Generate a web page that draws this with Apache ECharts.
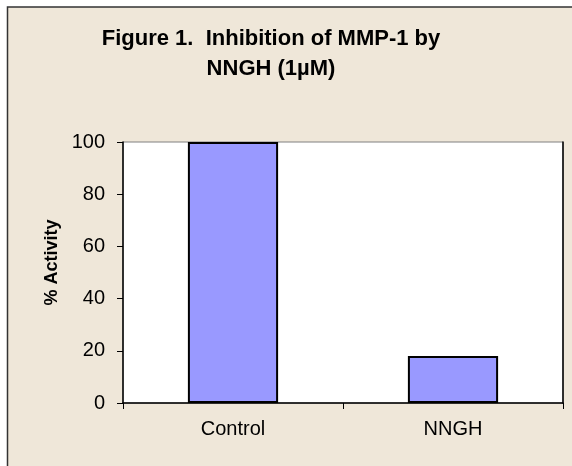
<!DOCTYPE html>
<html>
<head>
<meta charset="utf-8">
<script src="https://cdn.jsdelivr.net/npm/echarts@6/dist/echarts.min.js"></script>
<style>
  html, body { margin: 0; padding: 0; background: #fff; }
  #chart { width: 572px; height: 466px; }
</style>
</head>
<body>
<div id="chart"></div>
<script>
const categories = ['Control', 'NNGH'];
const activity = [100, 18];
const titleText = 'Figure 1.  Inhibition of MMP-1 by\nNNGH (1\u00b5M)';
const yName = '% Activity';

const chart = echarts.init(document.getElementById('chart'), null, { renderer: 'canvas' });

chart.setOption({
    animation: false,
    backgroundColor: '#ffffff',
    textStyle: { fontFamily: 'Liberation Sans, Arial, sans-serif', color: '#000' },
    graphic: [
        {
            type: 'rect',
            z: -10,
            shape: { x: 7.5, y: 7, width: 600, height: 500 },
            style: { fill: '#efe7d9', stroke: '#333', lineWidth: 1.5 },
        },
    ],
    title: {
        text: titleText,
        left: 271,
        top: 24,
        padding: 0,
        textAlign: 'center',
        textStyle: {
            fontSize: 22,
            fontWeight: 'bold',
            lineHeight: 30,
            color: '#000',
        },
    },
    grid: {
        left: 123,
        right: 9,
        top: 142,
        bottom: 63,
        show: true,
        backgroundColor: '#ffffff',
        borderColor: '#808080',
        borderWidth: 1,
    },
    xAxis: {
        type: 'category',
        data: categories,
        axisLine: { lineStyle: { color: '#000', width: 1.5 } },
        axisTick: { show: true, length: 6, lineStyle: { color: '#000' } },
        axisLabel: { fontSize: 20, margin: 16, color: '#000' },
    },
    yAxis: [
        {
            type: 'value',
            min: 0,
            max: 100,
            interval: 20,
            name: yName,
            nameLocation: 'middle',
            nameGap: 60,
            nameRotate: 90,
            nameTextStyle: { fontSize: 18, fontWeight: 'bold', color: '#000', padding: [0, 0, 0, 20] },
            axisLine: { show: true, lineStyle: { color: '#000', width: 1.5 } },
            axisTick: { show: true, length: 6, lineStyle: { color: '#000' } },
            axisLabel: { fontSize: 20, margin: 18, color: '#000' },
            splitLine: { show: false },
        },
        {
            type: 'value',
            position: 'right',
            min: 0,
            max: 100,
            interval: 20,
            axisLine: { show: true, lineStyle: { color: '#000', width: 1.5 } },
            axisTick: { show: false },
            axisLabel: { show: false },
            splitLine: { show: false },
        },
    ],
    series: [
        {
            type: 'bar',
            data: activity,
            barWidth: '41%',
            itemStyle: { color: '#9999ff', borderColor: '#000', borderWidth: 2 },
        },
    ],
});
</script>
</body>
</html>
